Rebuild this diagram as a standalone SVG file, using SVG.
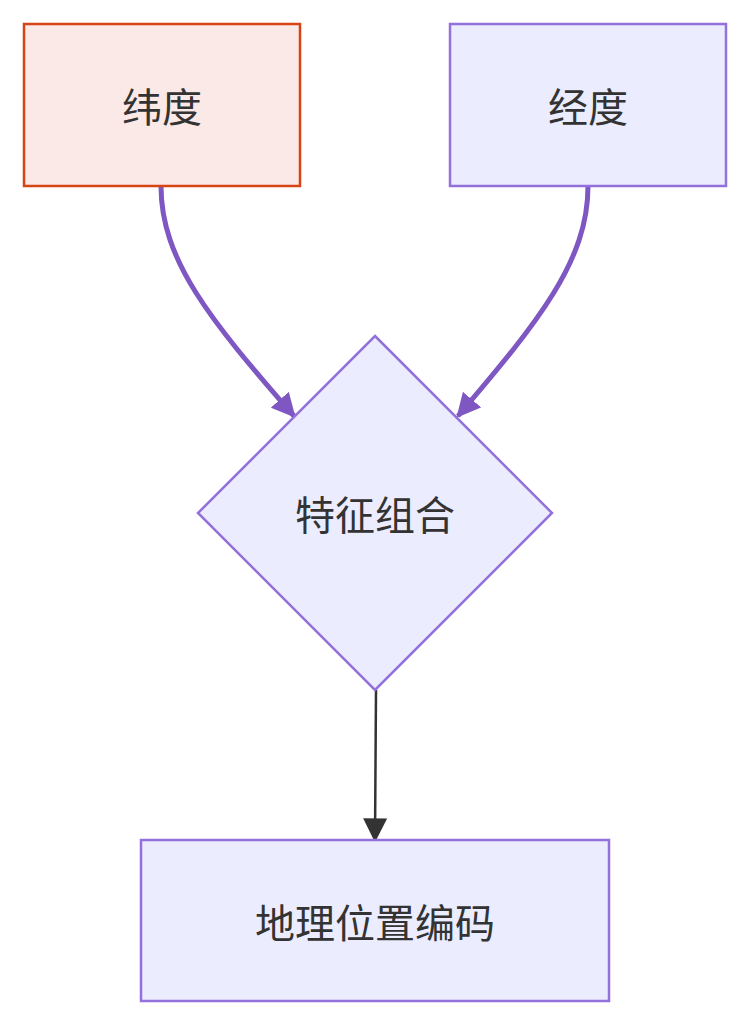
<svg xmlns="http://www.w3.org/2000/svg" width="750" height="1026" viewBox="0 0 750 1026">
<style>
text{font-family:"Noto Sans CJK SC","Liberation Sans",sans-serif;font-size:40px;fill:#333;text-anchor:middle;dominant-baseline:central}
.n{fill:#ECECFF;stroke:#9370DB;stroke-width:2.5}
.p{fill:none;stroke:#7E57C2;stroke-width:5}
</style>
<defs>
<marker id="ap" viewBox="0 0 10 10" refX="8" refY="5" markerWidth="5" markerHeight="5" orient="auto" markerUnits="userSpaceOnUse" style="overflow:visible"><path d="M0,0L10,5L0,10z" fill="#7E57C2" transform="scale(2.4) translate(-4,-5) translate(4,5)"/></marker>
<marker id="ak" viewBox="0 0 10 10" refX="9" refY="5" markerWidth="24" markerHeight="24" orient="auto" markerUnits="userSpaceOnUse"><path d="M0,0L10,5L0,10z" fill="#333"/></marker>
<marker id="ap2" viewBox="0 0 10 10" refX="9" refY="5" markerWidth="24" markerHeight="24" orient="auto" markerUnits="userSpaceOnUse"><path d="M0,0L10,5L0,10z" fill="#7E57C2"/></marker>
</defs>
<g id="connectors">
<path class="p" d="M161,186 C161,260 210,320 294,416" marker-end="url(#ap2)"/>
<path class="p" d="M588,186 C588,260 540,320 458,416" marker-end="url(#ap2)"/>
<path d="M376,690 L375,840" fill="none" stroke="#333" stroke-width="2.5" marker-end="url(#ak)"/>
</g>
<g id="lat"><rect x="24" y="24" width="276" height="162" fill="#FBE9E7" stroke="#D84315" stroke-width="2.5"/><text x="162" y="105">纬度</text></g>
<g id="lon"><rect class="n" x="450" y="24" width="276" height="162"/><text x="588" y="105">经度</text></g>
<g id="combo"><polygon class="n" points="375,336 552,513 375,690 198,513"/><text x="375" y="513">特征组合</text></g>
<g id="geo"><rect class="n" x="141" y="840" width="468" height="161"/><text x="375" y="921">地理位置编码</text></g>
</svg>
